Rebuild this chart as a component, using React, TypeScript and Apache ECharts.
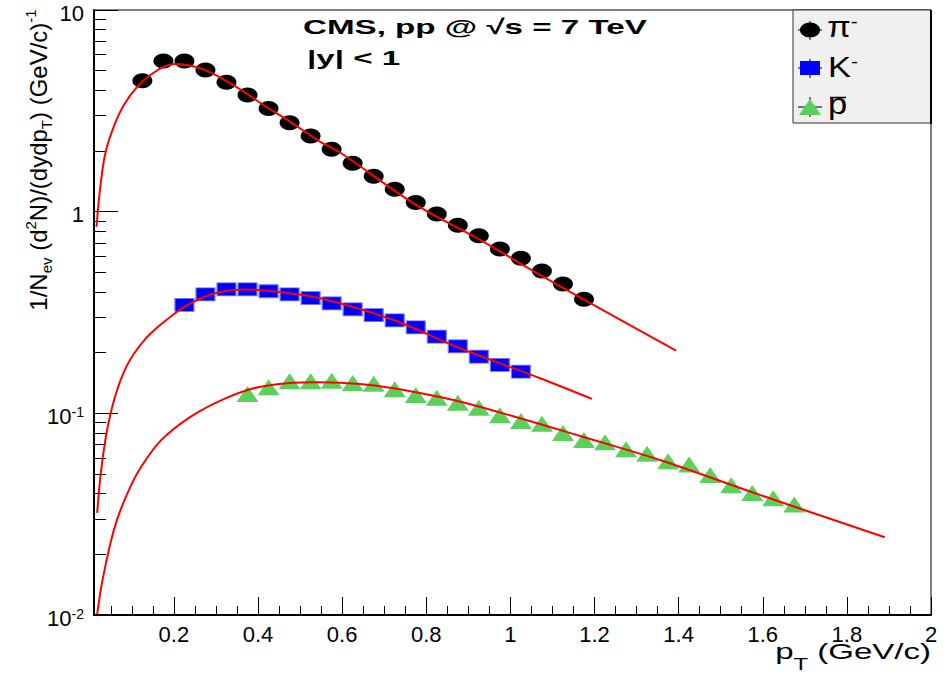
import React, { useEffect, useRef } from 'react';
import * as echarts from 'echarts';

// ---------- data ----------
const pionPt = [0.125, 0.175, 0.225, 0.275, 0.325, 0.375, 0.425, 0.475, 0.525, 0.575, 0.625, 0.675, 0.725, 0.775, 0.825, 0.875, 0.925, 0.975, 1.025, 1.075, 1.125, 1.175];
const pionYield = [4.46, 5.59, 5.59, 5.04, 4.38, 3.79, 3.25, 2.76, 2.37, 2.04, 1.74, 1.5, 1.29, 1.11, 0.974, 0.856, 0.76, 0.653, 0.587, 0.508, 0.438, 0.368];

const kaonPt = [0.225, 0.275, 0.325, 0.375, 0.425, 0.475, 0.525, 0.575, 0.625, 0.675, 0.725, 0.775, 0.825, 0.875, 0.925, 0.975, 1.025];
const kaonYield = [0.345, 0.389, 0.412, 0.412, 0.403, 0.389, 0.373, 0.351, 0.328, 0.307, 0.289, 0.267, 0.24, 0.215, 0.191, 0.174, 0.161];

const protonPt = [0.375, 0.425, 0.475, 0.525, 0.575, 0.625, 0.675, 0.725, 0.775, 0.825, 0.875, 0.925, 0.975, 1.025, 1.075, 1.125, 1.175, 1.225, 1.275, 1.325, 1.375, 1.425, 1.475, 1.525, 1.575, 1.625, 1.675];
const protonYield = [0.1248, 0.1347, 0.1442, 0.1442, 0.1452, 0.1415, 0.1403, 0.1317, 0.1234, 0.1196, 0.113, 0.1067, 0.0979, 0.0917, 0.0889, 0.0799, 0.0738, 0.0719, 0.0664, 0.0631, 0.0579, 0.0557, 0.0495, 0.044, 0.0403, 0.0379, 0.0353];

// fit curves
const pionFitPt = [0.016, 0.025, 0.037, 0.057, 0.081, 0.113, 0.144, 0.176, 0.2, 0.231, 0.271, 0.318, 0.366, 0.413, 0.477, 0.548, 0.596, 0.77, 0.928, 1.078, 1.173, 1.394];
const pionFitY = [0.842, 1.33, 1.948, 2.64, 3.38, 4.17, 4.76, 5.24, 5.4, 5.34, 5.08, 4.53, 3.94, 3.38, 2.79, 2.22, 1.96, 1.1, 0.724, 0.476, 0.368, 0.2047];

const kaonFitPt = [0.0176, 0.0254, 0.0373, 0.0492, 0.061, 0.0729, 0.0888, 0.1045, 0.1323, 0.1601, 0.1798, 0.1995, 0.2195, 0.2392, 0.2701, 0.3026, 0.339, 0.3739, 0.4451, 0.548, 0.7221, 0.8805, 1.0705, 1.194];
const kaonFitY = [0.0321, 0.0489, 0.0746, 0.0993, 0.1229, 0.1457, 0.1734, 0.197, 0.2341, 0.2663, 0.2881, 0.3102, 0.3316, 0.3506, 0.3764, 0.3958, 0.4077, 0.411, 0.4012, 0.372, 0.2904, 0.2102, 0.1493, 0.1179];

const protonFitPt = [0.0176, 0.0294, 0.0492, 0.065, 0.0808, 0.1007, 0.1204, 0.168, 0.2392, 0.3183, 0.3896, 0.4689, 0.548, 0.643, 0.7221, 0.8646, 1.023, 1.1656, 1.3556, 1.5931, 1.89];
const protonFitY = [0.0101, 0.01459, 0.02278, 0.0298, 0.03636, 0.0451, 0.0536, 0.073, 0.096, 0.1175, 0.1332, 0.141, 0.1427, 0.1399, 0.1332, 0.1165, 0.0946, 0.0772, 0.0587, 0.0394, 0.0243];

// axis ticks
const xMajorTicks = [0.2, 0.4, 0.6, 0.8, 1, 1.2, 1.4, 1.6, 1.8, 2];
const xMinorTicks = [0.05, 0.1, 0.15, 0.25, 0.3, 0.35, 0.45, 0.5, 0.55, 0.65, 0.7, 0.75, 0.85, 0.9, 0.95, 1.05, 1.1, 1.15, 1.25, 1.3, 1.35, 1.45, 1.5, 1.55, 1.65, 1.7, 1.75, 1.85, 1.9, 1.95];
const yMinorTicks = [0.02, 0.03, 0.04, 0.05, 0.06, 0.07, 0.08, 0.09, 0.2, 0.3, 0.4, 0.5, 0.6, 0.7, 0.8, 0.9, 2, 3, 4, 5, 6, 7, 8, 9];

const FONT = "'Liberation Sans', Arial, Helvetica, sans-serif";
const RED = '#ff0000';
const BLUE = '#0000ff';
const GREEN = '#5bd15b';

const zip = (xs: number[], ys: number[]) => xs.map((x, i) => [x, ys[i]]);

function yLabel(v: number): string {
  const e = Math.round(Math.log10(v));
  if (e === 1) return '{b|10}';
  if (e === 0) return '{b|1}';
  return '{b|10}{s|' + e + '}';
}

export default function App() {
  const ref = useRef<HTMLDivElement>(null);
  useEffect(() => {
    const chart = echarts.init(ref.current!, null, { renderer: 'svg' });
    const option: any = {
      animation: false,
      backgroundColor: '#ffffff',
      grid: {
        left: 94, right: 13, top: 10, bottom: 62,
        show: true, borderColor: '#000', borderWidth: 1, backgroundColor: 'transparent',
        containLabel: false, outerBoundsMode: 'none',
      },
      xAxis: [
        {
          type: 'value', min: 0.01, max: 2, position: 'bottom',
          axisLine: { show: true, onZero: false, lineStyle: { color: '#000', width: 2 } },
          axisTick: { show: true, inside: true, length: 18, customValues: xMajorTicks, lineStyle: { color: '#000', width: 1 } },
          axisLabel: { show: true, customValues: xMajorTicks, color: '#000', fontSize: 22, fontFamily: FONT, margin: 8 },
          splitLine: { show: false },
        },
        {
          type: 'value', min: 0.01, max: 2, position: 'bottom',
          axisLine: { show: false, onZero: false },
          axisTick: { show: true, inside: true, length: 9, customValues: xMinorTicks, lineStyle: { color: '#000', width: 1 } },
          axisLabel: { show: false },
          splitLine: { show: false },
        },
      ],
      yAxis: [
        {
          type: 'log', logBase: 10, min: 0.01, max: 10, position: 'left',
          axisLine: { show: true, onZero: false, lineStyle: { color: '#000', width: 2 } },
          axisTick: { show: true, inside: true, length: 24, lineStyle: { color: '#000', width: 1 } },
          axisLabel: {
            show: true, formatter: yLabel, margin: 10, color: '#000', padding: [6, 0, 0, 0],
            rich: {
              b: { fontSize: 22, fontFamily: FONT, color: '#000' },
              s: { fontSize: 14, fontFamily: FONT, color: '#000', verticalAlign: 'top' },
            },
          },
          splitLine: { show: false },
          minorTick: { show: false },
        },
        {
          type: 'log', logBase: 10, min: 0.01, max: 10, position: 'left',
          axisLine: { show: false, onZero: false },
          axisTick: { show: true, inside: true, length: 12, customValues: yMinorTicks, lineStyle: { color: '#000', width: 1 } },
          axisLabel: { show: false },
          splitLine: { show: false },
        },
      ],
      series: [
        { type: 'scatter', name: 'pi', data: zip(pionPt, pionYield), symbol: 'circle', symbolSize: [20, 15], itemStyle: { color: '#000', opacity: 1 }, z: 2 },
        { type: 'scatter', name: 'K', data: zip(kaonPt, kaonYield), symbol: 'rect', symbolSize: [19, 13], itemStyle: { color: BLUE, borderColor: '#7a7aff', borderWidth: 1, opacity: 1 }, z: 2 },
        { type: 'scatter', name: 'p', data: zip(protonPt, protonYield), symbol: 'triangle', symbolSize: [22, 16], itemStyle: { color: GREEN, opacity: 1 }, z: 2 },
        { type: 'line', data: zip(pionFitPt, pionFitY), smooth: 0.35, showSymbol: false, lineStyle: { color: RED, width: 2 }, z: 3 },
        { type: 'line', data: zip(kaonFitPt, kaonFitY), smooth: 0.35, showSymbol: false, lineStyle: { color: RED, width: 2 }, z: 3 },
        { type: 'line', data: zip(protonFitPt, protonFitY), smooth: 0.35, showSymbol: false, lineStyle: { color: RED, width: 2 }, z: 3 },
      ],
      graphic: [
        // header texts
        { type: 'text', x: 303, y: 27, scaleX: 1.58, style: { text: 'CMS, pp @ √s = 7 TeV', font: `bold 21px ${FONT}`, fill: '#000', align: 'left', verticalAlign: 'middle' }, z: 10 },
        { type: 'text', x: 307, y: 58, scaleX: 1.58, style: { text: '|y| < 1', font: `bold 21px ${FONT}`, fill: '#000', align: 'left', verticalAlign: 'middle' }, z: 10 },
        // y axis title
        {
          type: 'text', x: 38, y: 160, rotation: Math.PI / 2,
          style: {
            text: '1/N{sub|ev} (d{sup|2}N)/(dydp{sub|T}) (GeV/c){sup|-1}',
            font: `24px ${FONT}`, fill: '#000', align: 'center', verticalAlign: 'middle',
            rich: {
              sub: { fontSize: 15, fontFamily: FONT, fill: '#000', padding: [16, 0, 0, 0] },
              sup: { fontSize: 15, fontFamily: FONT, fill: '#000', padding: [0, 0, 16, 0] },
            },
          },
          z: 10,
        },
        // x axis title
        {
          type: 'text', x: 931, y: 652, scaleX: 1.5,
          style: {
            text: 'p{sub|T} (GeV/c)', font: `22px ${FONT}`, fill: '#000', align: 'right', verticalAlign: 'middle',
            rich: { sub: { fontSize: 16, fontFamily: FONT, fill: '#000', padding: [26, 0, 0, 0] } },
          },
          z: 10,
        },
        // legend box
        { type: 'rect', shape: { x: 793, y: 10, width: 138, height: 113 }, style: { fill: '#f0f0f0', stroke: '#333', lineWidth: 1 }, z: 20 },
        { type: 'line', shape: { x1: 931, y1: 10, x2: 931, y2: 124 }, style: { stroke: '#000', lineWidth: 2 }, z: 21 },
        // pi marker
        { type: 'line', shape: { x1: 798, y1: 30, x2: 822, y2: 30 }, style: { stroke: '#000', lineWidth: 1 }, z: 21 },
        { type: 'line', shape: { x1: 810, y1: 21, x2: 810, y2: 40 }, style: { stroke: '#000', lineWidth: 1 }, z: 21 },
        { type: 'ellipse', shape: { cx: 810, cy: 30, rx: 10, ry: 7.5 }, style: { fill: '#000' }, z: 22 },
        // K marker
        { type: 'line', shape: { x1: 798, y1: 68, x2: 822, y2: 68 }, style: { stroke: '#000', lineWidth: 1 }, z: 21 },
        { type: 'line', shape: { x1: 810, y1: 59, x2: 810, y2: 78 }, style: { stroke: '#000', lineWidth: 1 }, z: 21 },
        { type: 'rect', shape: { x: 800, y: 61, width: 20, height: 14 }, style: { fill: BLUE }, z: 22 },
        // pbar marker
        { type: 'line', shape: { x1: 798, y1: 107, x2: 822, y2: 107 }, style: { stroke: '#000', lineWidth: 1 }, z: 21 },
        { type: 'line', shape: { x1: 810, y1: 97, x2: 810, y2: 117 }, style: { stroke: '#000', lineWidth: 1 }, z: 21 },
        { type: 'polygon', shape: { points: [[810, 99], [821, 115], [799, 115]] }, style: { fill: GREEN }, z: 22 },
        // legend texts
        {
          type: 'text', x: 827, y: 27, scaleX: 1.15,
          style: { text: 'π{s|-}', font: `30px ${FONT}`, fill: '#000', align: 'left', verticalAlign: 'middle', rich: { s: { fontSize: 18, fontFamily: FONT, fill: '#000', verticalAlign: 'top' } } },
          z: 23,
        },
        {
          type: 'text', x: 828, y: 67, scaleX: 1.15,
          style: { text: 'K{s|-}', font: `30px ${FONT}`, fill: '#000', align: 'left', verticalAlign: 'middle', rich: { s: { fontSize: 18, fontFamily: FONT, fill: '#000', verticalAlign: 'top' } } },
          z: 23,
        },
        {
          type: 'text', x: 828, y: 104, scaleX: 1.15,
          style: { text: 'p', font: `30px ${FONT}`, fill: '#000', align: 'left', verticalAlign: 'middle' },
          z: 23,
        },
        { type: 'line', shape: { x1: 830, y1: 97.5, x2: 846, y2: 97.5 }, style: { stroke: '#000', lineWidth: 1.5 }, z: 23 },
      ],
    };
    chart.setOption(option);
    return () => chart.dispose();
  }, []);
  return <div ref={ref} style={{ position: 'absolute', left: 0, top: 0, width: 944, height: 677 }} />;
}
